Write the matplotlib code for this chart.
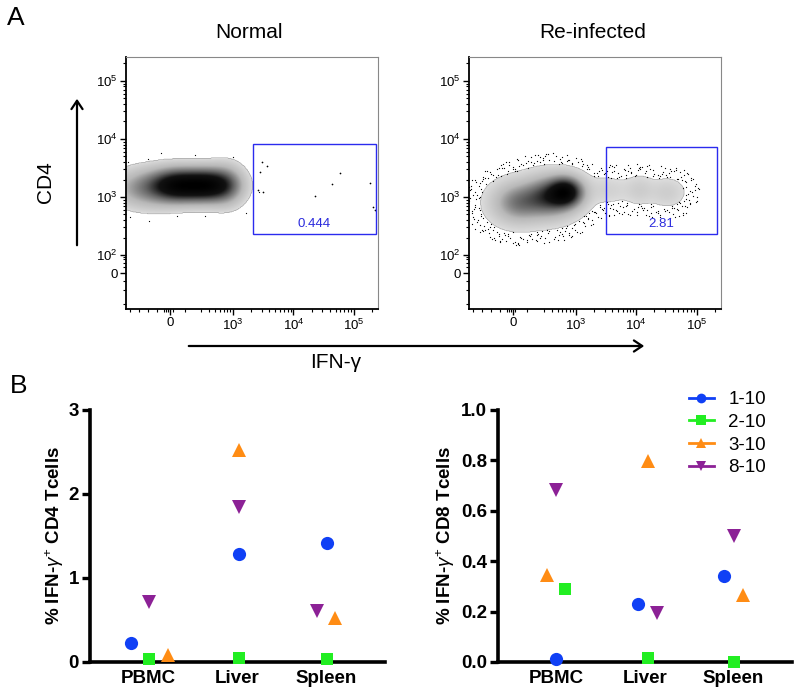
import numpy as np
import matplotlib
matplotlib.use('Agg')
import matplotlib.pyplot as plt
from matplotlib.colors import LinearSegmentedColormap
from matplotlib.patches import Rectangle, FancyArrowPatch
from matplotlib.lines import Line2D

plt.rcParams['font.family'] = ['Liberation Sans', 'DejaVu Sans']
plt.rcParams['mathtext.fontset'] = 'custom'
plt.rcParams['mathtext.rm'] = 'Liberation Sans'
plt.rcParams['mathtext.it'] = 'Liberation Sans:italic'
plt.rcParams['mathtext.bf'] = 'Liberation Sans:bold'

# ---------------- panel A : flow plots (axes in "decade" units) ----------------
flow_titles = ['Normal', 'Re-infected']
gate_pct = ['0.444', '2.81']
# gate boxes: x0, x1, y0, y1
gate_normal = [3.33, 5.36, 2.36, 3.91]
gate_reinf = [3.50, 5.33, 2.36, 3.86]
# density blobs: centre x, centre y, sigma x, sigma y, weight
blobs_normal = [(1.60, 3.15, 0.35, 0.20, 0.30),
                (2.10, 3.20, 0.28, 0.17, 0.90),
                (2.60, 3.20, 0.26, 0.17, 0.90),
                (2.90, 3.20, 0.18, 0.22, 0.20)]
blobs_reinf = [(2.05, 2.90, 0.25, 0.20, 0.30),
               (2.55, 3.00, 0.25, 0.20, 0.50),
               (2.82, 3.08, 0.17, 0.15, 0.80),
               (3.50, 3.12, 0.25, 0.15, 0.03),
               (4.05, 3.12, 0.15, 0.15, 0.04),
               (4.50, 3.08, 0.18, 0.15, 0.04)]
# a few events inside the Normal gate
gate_events_x = [3.48, 3.56, 3.45, 3.41, 3.50, 4.77, 4.64, 4.36, 5.26, 5.31, 5.35]
gate_events_y = [3.60, 3.53, 3.43, 3.12, 3.09, 3.41, 3.22, 3.02, 3.24, 2.83, 2.78]

# ---------------- panel B : scatter data ----------------
tissues = ['PBMC', 'Liver', 'Spleen']
donors = ['1-10', '2-10', '3-10', '8-10']
cd4_d1 = [0.23, 1.29, 1.42]
cd4_d2 = [0.04, 0.05, 0.03]
cd4_d3 = [0.08, 2.52, 0.52]
cd4_d8 = [0.71, 1.85, 0.61]
cd8_d1 = [0.012, 0.228, 0.34]
cd8_d2 = [0.29, 0.016, 0.0]
cd8_d3 = [0.344, 0.796, 0.264]
cd8_d8 = [0.684, 0.196, 0.50]
# horizontal spread of points within a tissue column
cd4_dx = [[-0.20, 0.02, 0.0], [0.0, 0.02, 0.0], [0.22, 0.02, 0.10], [0.0, 0.02, -0.11]]
cd8_dx = [[0.0, -0.08, -0.11], [0.10, 0.03, 0.0], [-0.11, 0.03, 0.11], [0.0, 0.14, 0.0]]
colors = ['#1040f5', '#22ee22', '#ff8c14', '#8c2196']
markers = ['o', 's', '^', 'v']

fig = plt.figure(figsize=(8, 6.96), dpi=100)


def halton(n, base):
    out = np.zeros(n)
    for i in range(n):
        f, r, k = 1.0, 0.0, i + 1
        while k > 0:
            f /= base
            r += f * (k % base)
            k //= base
        out[i] = r
    return out


def dens(gx, gy, blobs):
    d = np.zeros_like(gx)
    for cx, cy, sx, sy, w in blobs:
        d += w * np.exp(-0.5 * (((gx - cx) / sx) ** 2 + ((gy - cy) / sy) ** 2))
    return d


cmap = LinearSegmentedColormap.from_list('flow', [(0, '#e0e0e0'), (0.3, '#b8b8b8'),
                                                   (0.55, '#646464'), (0.75, '#121212'),
                                                   (1, '#000000')])
xl, yl = (1.23, 5.40), (1.07, 5.41)


def flow_panel(rect, title, blobs, gate, pct, thr, ncand, keep, lo):
    ax = fig.add_axes(rect)
    gx, gy = np.meshgrid(np.linspace(*xl, 400), np.linspace(*yl, 400))
    d = dens(gx, gy, blobs)
    v = np.clip((d - thr) / (d.max() - thr), 0, 1) ** 0.55
    v = np.ma.masked_where(d < thr, v)
    ax.imshow(v, extent=(*xl, *yl), origin='lower', cmap=cmap, vmin=0, vmax=1,
              aspect='auto', interpolation='bilinear', zorder=1)
    # sparse events around the population edge
    hx = xl[0] + (xl[1] - xl[0]) * halton(ncand, 2)
    hy = yl[0] + (yl[1] - yl[0]) * halton(ncand, 3)
    hk = halton(ncand, 5)
    dd = dens(hx, hy, blobs)
    m = (dd < thr) & (dd > thr * lo) & (hk < keep)
    ax.scatter(hx[m], hy[m], s=0.8, color='black', lw=0, zorder=2)
    ax.add_patch(Rectangle((gate[0], gate[2]), gate[1] - gate[0], gate[3] - gate[2],
                           fill=False, edgecolor='#2b2bee', lw=1.0, zorder=3))
    ax.text((gate[0] + gate[1]) / 2, 2.54, pct, color='#2b2bdd', fontsize=9.5,
            ha='center', va='center', zorder=4)
    ax.set_xlim(*xl)
    ax.set_ylim(*yl)
    ax.set_xticks([1.96, 3, 4, 5], ['0', '$10^3$', '$10^4$', '$10^5$'])
    ax.set_yticks([1.69, 2, 3, 4, 5], ['0', '$10^2$', '$10^3$', '$10^4$', '$10^5$'])
    logs = [np.log10(m_ * 10 ** k) for k in (3, 4) for m_ in range(2, 10)] + [np.log10(2e5)]
    ax.set_xticks([1.3, 1.45, 1.6, 1.75, 1.86, 1.9, 1.93, 2.0, 2.2]
                  + [np.log10(m_ * 100) for m_ in range(3, 10)] + logs, minor=True)
    ax.set_yticks([1.15, 1.4, 1.55, 1.8, 1.87, 1.93, 1.97]
                  + [np.log10(m_ * 100) for m_ in range(2, 10)] + logs, minor=True)
    ax.tick_params(which='major', length=4, width=1, labelsize=9.5, pad=2)
    ax.tick_params(which='minor', length=2.5, width=0.8)
    for s in ('top', 'right'):
        ax.spines[s].set_color('#888888')
        ax.spines[s].set_linewidth(0.8)
    for s in ('left', 'bottom'):
        ax.spines[s].set_linewidth(1.3)
    fig.text(rect[0] + rect[2] * 0.49, 0.954, title, ha='center', va='center', fontsize=15)
    return ax


axn = flow_panel([0.1575, 0.556, 0.315, 0.362], flow_titles[0], blobs_normal,
                 gate_normal, gate_pct[0], 0.03, 3000, 0.12, 0.1)
axn.scatter(gate_events_x, gate_events_y, s=1.5, color='black', lw=0, zorder=2)
flow_panel([0.586, 0.556, 0.315, 0.362], flow_titles[1], blobs_reinf,
           gate_reinf, gate_pct[1], 0.012, 9000, 0.4, 0.03)

# axis arrows and labels for panel A
fig.add_artist(FancyArrowPatch((77 / 800, 1 - 248 / 696), (77 / 800, 1 - 96 / 696),
                               transform=fig.transFigure, arrowstyle='->,head_length=6,head_width=4',
                               lw=1.6, color='black', mutation_scale=1))
fig.add_artist(FancyArrowPatch((186 / 800, 1 - 346 / 696), (647 / 800, 1 - 346 / 696),
                               transform=fig.transFigure, arrowstyle='->,head_length=6,head_width=4',
                               lw=1.6, color='black', mutation_scale=1))
fig.text(45 / 800, 1 - 182 / 696, 'CD4', rotation=90, ha='center', va='center', fontsize=15)
fig.text(336 / 800, 1 - 363 / 696, 'IFN-γ', ha='center', va='center', fontsize=15)
fig.text(7 / 800, 1 - 18 / 696, 'A', ha='left', va='center', fontsize=19)
fig.text(10 / 800, 1 - 386 / 696, 'B', ha='left', va='center', fontsize=19)

# ---------------- panel B ----------------
cd4_all = [cd4_d1, cd4_d2, cd4_d3, cd4_d8]
cd8_all = [cd8_d1, cd8_d2, cd8_d3, cd8_d8]


def scatter_panel(rect, vals, dxs, ymax, yticks, ylab, labx):
    ax = fig.add_axes(rect)
    for i in range(len(donors)):
        xs = [j + 1 + dxs[i][j] for j in range(len(tissues))]
        ax.plot(xs, vals[i], linestyle='none', marker=markers[i], color=colors[i],
                ms=8.5 if markers[i] == 's' else 9.5, mew=0, clip_on=False, zorder=3)
    ax.set_xlim(0.34, 3.66)
    ax.set_ylim(0, ymax)
    ax.set_xticks([1, 2, 3], tissues)
    ax.set_yticks(yticks[0], yticks[1])
    ax.spines['top'].set_visible(False)
    ax.spines['right'].set_visible(False)
    for s in ('left', 'bottom'):
        ax.spines[s].set_linewidth(2.6)
    ax.tick_params(axis='y', length=6, width=2.4, labelsize=13.5, pad=2)
    ax.tick_params(axis='x', length=0, labelsize=13.5, pad=6)
    for t in ax.get_xticklabels() + ax.get_yticklabels():
        t.set_fontweight('bold')
    ax.set_ylabel(ylab, fontsize=13.5, fontweight='bold')
    ax.yaxis.set_label_coords(labx, 0.5)
    return ax


scatter_panel([0.1125, 0.049, 0.369, 0.362], cd4_all, cd4_dx, 3,
              ([0, 1, 2, 3], ['0', '1', '2', '3']),
              r'% IFN-$\gamma^{+}$ CD4 Tcells', -0.08)
scatter_panel([0.6225, 0.049, 0.3675, 0.362], cd8_all, cd8_dx, 1.0,
              ([0, 0.2, 0.4, 0.6, 0.8, 1.0], ['0.0', '0.2', '0.4', '0.6', '0.8', '1.0']),
              r'% IFN-$\gamma^{+}$ CD8 Tcells', -0.14)

handles = [Line2D([], [], color=colors[i], marker=markers[i], lw=2, ms=7, mew=0)
           for i in range(len(donors))]
fig.legend(handles, donors, loc='upper left', bbox_to_anchor=(0.861, 1 - 391 / 696),
           frameon=False, fontsize=13.5, handlelength=1.35, handletextpad=0.75,
           labelspacing=0.3, borderpad=0, borderaxespad=0)

fig.savefig('out.png', dpi=100)
